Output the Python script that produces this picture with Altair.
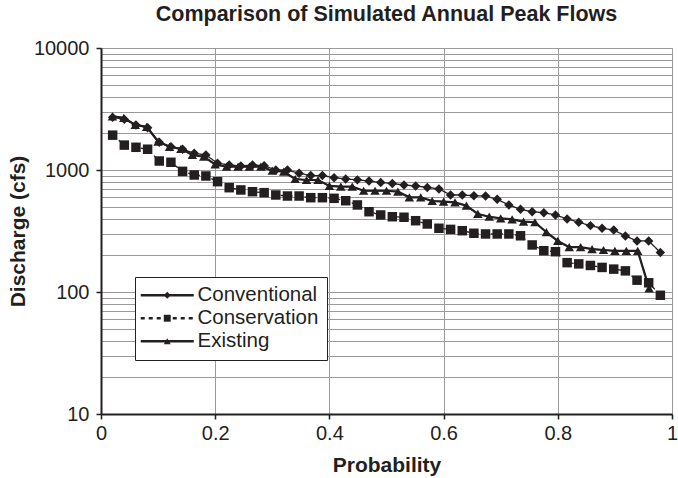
import altair as alt
import pandas as pd

# ---------------- data ----------------
chart_title = "Comparison of Simulated Annual Peak Flows"
series_names = ["Conventional", "Conservation", "Existing"]

conventional = [2700, 2600, 2340, 2220, 1690, 1550, 1480, 1370, 1330, 1135,
                1100, 1080, 1100, 1085, 1000, 1000, 940, 900, 900, 865,
                845, 830, 812, 790, 775, 754, 740, 720, 700, 624,
                624, 616, 612, 575, 517, 476, 455, 447, 428, 397,
                373, 350, 333, 322, 288, 262, 262, 211]

conservation = [1930, 1600, 1535, 1480, 1185, 1157, 975, 910, 893, 802,
                716, 686, 664, 652, 624, 612, 612, 593, 593, 586,
                560, 517, 455, 428, 414, 410, 384, 361, 333, 326,
                318, 303, 299, 299, 299, 289, 243, 218, 214, 174,
                170, 165, 159, 154, 149, 125, 119, 94]

existing = [2750, 2680, 2340, 2260, 1710, 1550, 1490, 1330, 1285, 1110,
            1064, 1064, 1064, 1064, 987, 968, 844, 828, 828, 740,
            730, 730, 676, 676, 676, 664, 597, 597, 557, 550,
            543, 510, 436, 414, 402, 394, 377, 373, 309, 262,
            233, 233, 225, 221, 217, 217, 217, 107]

# Weibull plotting positions m/(n+1) used by the chart
conv_prob = [m / 49 for m in range(1, 49)]
cons_prob = [m / 49 for m in range(1, 49)]
exist_prob = [m / 50 for m in range(1, 49)]

x_ticks = [0, 0.2, 0.4, 0.6, 0.8, 1]
y_major = [10, 100, 1000, 10000]
y_grid = [10, 20, 30, 40, 50, 60, 70, 80, 90,
          100, 200, 300, 400, 500, 600, 700, 800, 900,
          1000, 2000, 3000, 4000, 5000, 6000, 7000, 8000, 9000, 10000]

# ---------------- table ----------------
marker_names = ["marker " + s for s in series_names]
rows = []
for name, mk, probs, vals in [("Conventional", marker_names[0], conv_prob, conventional),
                              ("Conservation", marker_names[1], cons_prob, conservation),
                              ("Existing", marker_names[2], exist_prob, existing)]:
    for p, v in zip(probs, vals):
        rows.append({"series": name, "marker": mk, "prob": p, "flow": v})
df = pd.DataFrame(rows)

ink = "#231f20"
grid = "#9a9a9a"
font = "Liberation Sans"

major_test = " || ".join(f"datum.value == {v}" for v in y_major)

xscale = alt.Scale(domain=[0, 1], nice=False, zero=False)
yscale = alt.Scale(type="log", domain=[10, 10000], nice=False)

x_axis = alt.Axis(
    values=x_ticks, format="~g", title="Probability", labelFlush=False,
    grid=True, gridColor=grid, gridWidth=1,
    domainColor=ink, domainWidth=2,
    tickColor=ink, tickSize=5, tickWidth=1.5,
    labelFont=font, labelFontSize=20, labelColor=ink, labelPadding=4,
    titleFont=font, titleFontSize=21, titleFontWeight="bold", titleColor=ink,
    titleY=57, titleBaseline="alphabetic",
)
y_axis = alt.Axis(
    values=y_grid, labelOverlap=False, labelFlush=False,
    labelExpr=f"({major_test}) ? format(datum.value, 'd') : ''",
    title="Discharge (cfs)",
    grid=True, gridColor=grid, gridWidth=1,
    domainColor=ink, domainWidth=2,
    tickColor={"condition": {"test": major_test, "value": ink}, "value": "transparent"},
    tickSize=5, tickWidth=1.5,
    labelFont=font, labelFontSize=20, labelColor=ink, labelPadding=7,
    titleFont=font, titleFontSize=21, titleFontWeight="bold", titleColor=ink,
    titleAngle=-90, titleX=-83, titleY=183, titleAlign="center", titleBaseline="middle",
)

LX, LY = 34, 229
LFS = 20.5
line_legend = alt.Legend(
    title=None, orient="none", legendX=LX, legendY=LY,
    strokeColor=ink, fillColor="white", padding=8,
    labelFont=font, labelFontSize=LFS, labelColor=ink,
    symbolType="M-13.25,0H13.25", symbolSize=16, symbolStrokeWidth=2.5,
    symbolStrokeColor=ink, symbolOffset=14, labelOffset=20, rowPadding=2,
    zindex=1,
)
# marker-only legend laid exactly over the line legend (its hidden labels sit
# inside the symbol area so that the rows keep the same height)
marker_legend = alt.Legend(
    title=None, orient="none", legendX=LX, legendY=LY, padding=8,
    labelFont=font, labelFontSize=LFS, labelOpacity=0, labelExpr="'|'",
    labelAlign="right", labelOffset=0,
    symbolSize=48, symbolFillColor=ink, symbolStrokeColor=ink, symbolStrokeWidth=0.5,
    symbolOffset=14, rowPadding=2,
    zindex=2,
)

base = alt.Chart(df)
X = alt.X("prob:Q", scale=xscale, axis=x_axis)
Y = alt.Y("flow:Q", scale=yscale, axis=y_axis)

lines = base.mark_line(strokeWidth=1.3, color=ink).encode(
    x=X, y=Y,
    strokeDash=alt.StrokeDash(
        "series:N",
        scale=alt.Scale(domain=series_names, range=[[1, 0], [4, 4], [1, 0]]),
        legend=line_legend,
    ),
)
line_exist = base.transform_filter(alt.datum.series == "Existing").mark_line(
    strokeWidth=2.2, color=ink).encode(x=X, y=Y)

points = base.mark_point(filled=True, opacity=1, color=ink, size=90).encode(
    x=X, y=Y,
    shape=alt.Shape(
        "marker:N",
        scale=alt.Scale(domain=marker_names, range=["diamond", "square", "triangle-up"]),
        legend=marker_legend,
    ),
)

chart = alt.layer(
    lines, line_exist, points
).properties(
    width=571, height=366,
    autosize=alt.AutoSizeParams(type="none"),
    padding={"left": 101, "top": 48, "right": 6, "bottom": 64},
    title=alt.TitleParams(chart_title, font=font, fontSize=21.5, fontWeight="bold",
                          color=ink, anchor="middle", offset=13),
).configure_view(
    stroke=grid, strokeWidth=1.5
).configure_legend(
    strokeWidth=1.5
).configure(background="white")

chart.save("out.html", embed_options={"renderer": "svg", "actions": False})
